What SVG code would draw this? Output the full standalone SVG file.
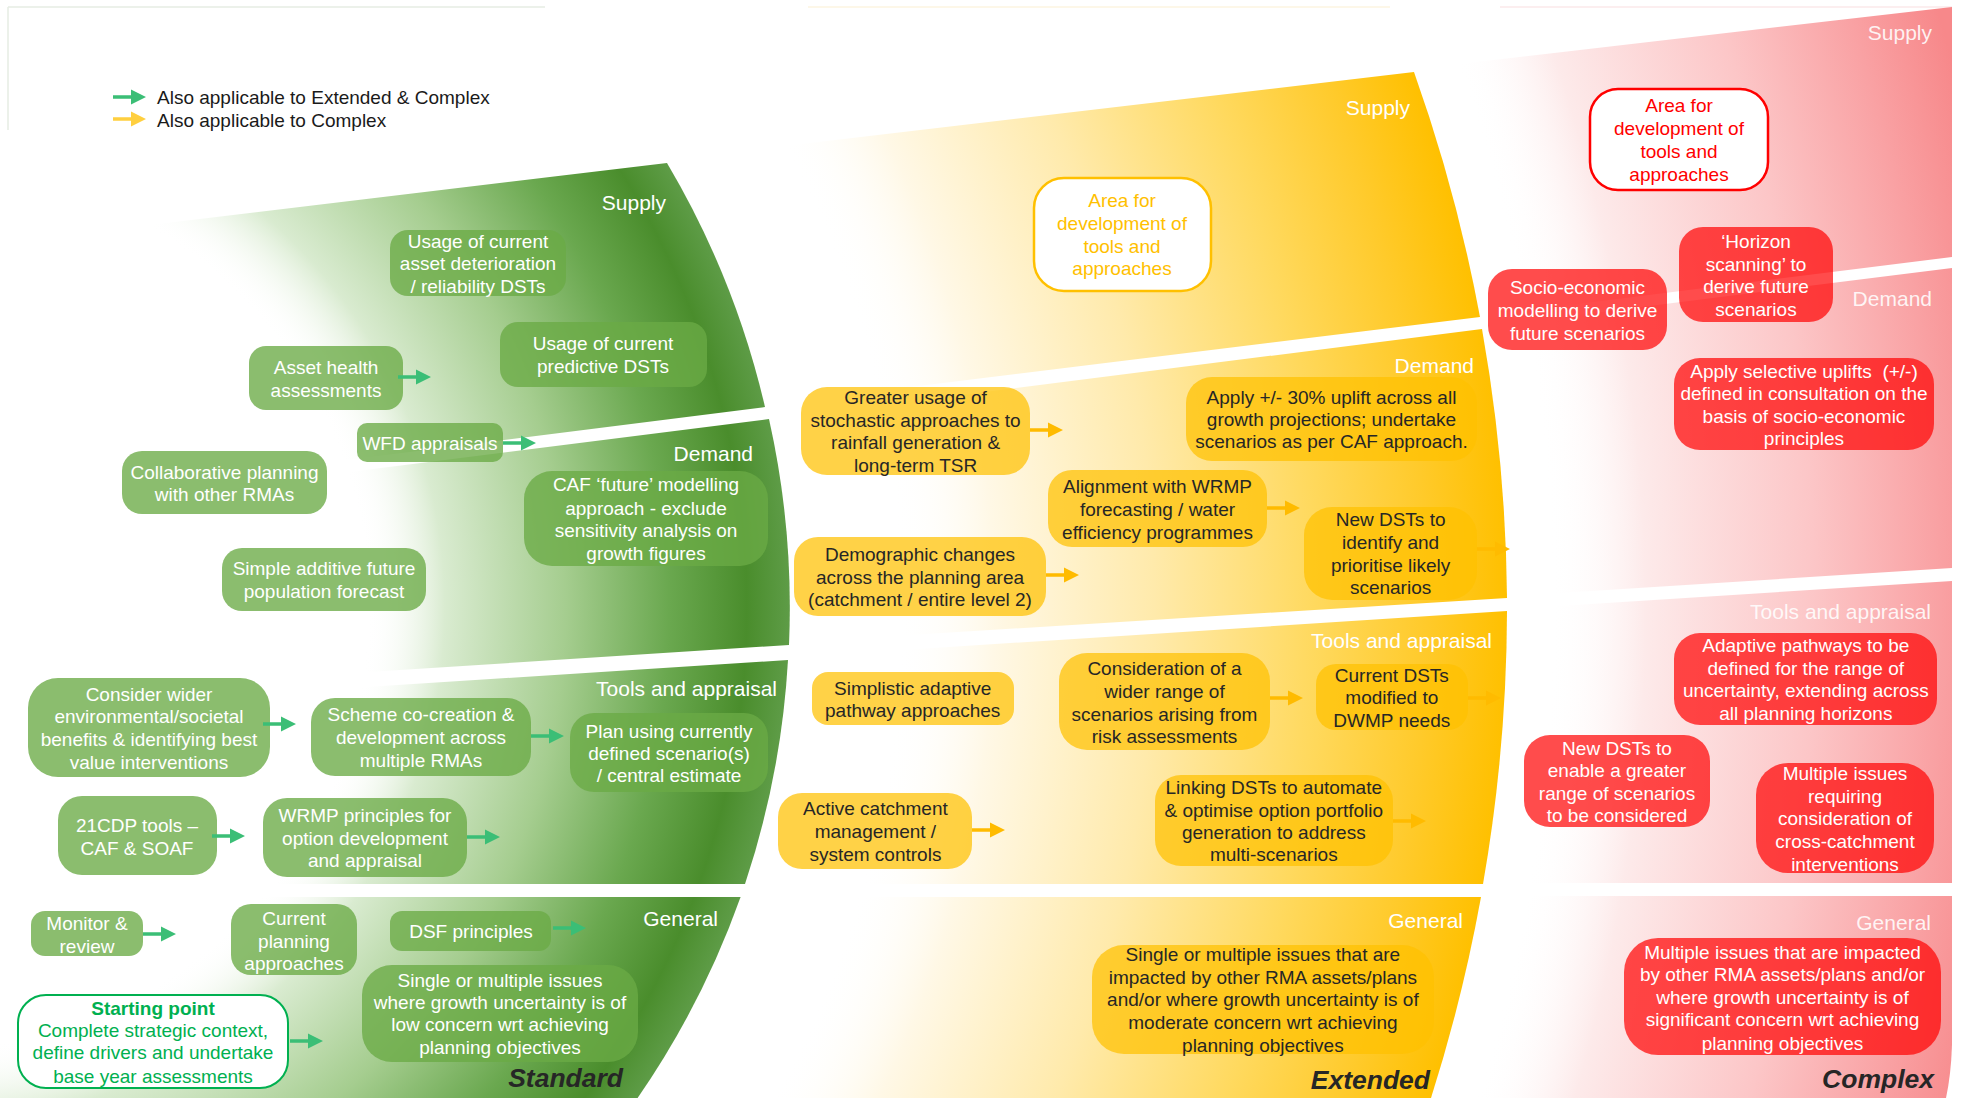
<svg xmlns="http://www.w3.org/2000/svg" xmlns:xlink="http://www.w3.org/1999/xlink" width="1961" height="1098" viewBox="0 0 1961 1098">
<defs>
<radialGradient id="gradG" gradientUnits="userSpaceOnUse" cx="-73" cy="608" r="863">
<stop offset="0" stop-color="#ffffff" stop-opacity="0"/>
<stop offset="0.51" stop-color="#ffffff" stop-opacity="0"/>
<stop offset="0.6" stop-color="#d9ebd0"/>
<stop offset="0.74" stop-color="#a5cd8f"/>
<stop offset="0.86" stop-color="#6aa84f"/>
<stop offset="0.95" stop-color="#4a8d2c"/>
<stop offset="1" stop-color="#5e9c47"/>
</radialGradient>
<radialGradient id="gradY" gradientUnits="userSpaceOnUse" cx="-96" cy="610" r="1603">
<stop offset="0" stop-color="#ffffff" stop-opacity="0"/>
<stop offset="0.62" stop-color="#ffffff" stop-opacity="0"/>
<stop offset="0.68" stop-color="#fff8e6"/>
<stop offset="0.78" stop-color="#ffeaab"/>
<stop offset="0.88" stop-color="#ffd95e"/>
<stop offset="0.95" stop-color="#ffca2a"/>
<stop offset="1" stop-color="#ffc000"/>
</radialGradient>
<radialGradient id="gradR" gradientUnits="userSpaceOnUse" cx="-85" cy="610" r="2110">
<stop offset="0" stop-color="#ffffff" stop-opacity="0"/>
<stop offset="0.775" stop-color="#ffffff" stop-opacity="0"/>
<stop offset="0.82" stop-color="#fdeaea"/>
<stop offset="0.9" stop-color="#fcc6c7"/>
<stop offset="0.96" stop-color="#f9a1a3"/>
<stop offset="1" stop-color="#f7888a"/>
</radialGradient>
<path id="arr" d="M0,-1.8 H18 V-7.5 L33,0 L18,7.5 V1.8 H0 Z"/>
<style>
text{font-family:"Liberation Sans",Arial,sans-serif;font-size:19px;text-anchor:middle}
.gn rect{fill:#6aaa45;fill-opacity:.78}
.gn text{fill:#ffffff}
.yn rect{fill:#ffc000;fill-opacity:.72}
.yn text{fill:#262626}
.rn rect{fill:#ff0000;fill-opacity:.7}
.rn text{fill:#ffffff}
.lbl{font-size:21px;fill:#ffffff;text-anchor:end}
.rl{fill-opacity:.88}
.ttl{font-size:26.5px;font-weight:bold;font-style:italic;fill:#262626;text-anchor:end}
.leg{text-anchor:start;fill:#1a1a1a}
.ga{fill:#3bbe76}
.ya{fill:#ffbb00}
.yl{fill:#ffcf3f}
.faint{stroke-width:1.5;fill:none}
</style>
</defs>
<rect x="0" y="0" width="1961" height="1098" fill="#ffffff"/>
<g id="faint-lines">
<path class="faint" d="M8,7 H545 M8,7 V130" stroke="#e6ede4"/>
<path class="faint" d="M808,7 H1390" stroke="#fdf4e0"/>
<path class="faint" d="M1500,7 H1952" stroke="#fbe9ea"/>
</g>
<g id="complex-bands">
<path d="M1450,65 L1952,7 L1952,257 L1450,320 Z" fill="url(#gradR)"/>
<path d="M1450,331 L1952,268 L1952,568 L1450,600 Z" fill="url(#gradR)"/>
<path d="M1450,613 L1952,581 L1952,883 L1450,883 Z" fill="url(#gradR)"/>
<path d="M1450,896 L1952,896 L1952,1045 Q1951,1075 1946,1098 L1450,1098 Z" fill="url(#gradR)"/>
</g>
<g id="extended-bands">
<path d="M780,146.5 L1414,72 A1603,1603 0 0,1 1480,317 L780,403 Z" fill="url(#gradY)"/>
<path d="M780,418 L1482,329 A1603,1603 0 0,1 1507,598 L780,643 Z" fill="url(#gradY)"/>
<path d="M780,658 L1507,611 A1603,1603 0 0,1 1483,884 L780,884 Z" fill="url(#gradY)"/>
<path d="M700,897 L1481,897 A1603,1603 0 0,1 1431,1098 L700,1098 Z" fill="url(#gradY)"/>
</g>
<g id="standard-bands">
<path d="M150,225 L667,163 A863,863 0 0,1 765,407 L150,485 Z" fill="url(#gradG)"/>
<path d="M150,497 L769,419 A863,863 0 0,1 789,645 L150,686 Z" fill="url(#gradG)"/>
<path d="M150,701 L788,660 A863,863 0 0,1 745,884 L150,884 Z" fill="url(#gradG)"/>
<path d="M0,897 L740.6,897 A863,863 0 0,1 637.6,1098 L0,1098 Z" fill="url(#gradG)"/>
</g>
<g id="band-labels">
<text class="lbl" x="666" y="210">Supply</text>
<text class="lbl" x="753" y="461">Demand</text>
<text class="lbl" x="777" y="696">Tools and appraisal</text>
<text class="lbl" x="718" y="926">General</text>
<text class="ttl" x="623" y="1087">Standard</text>
<text class="lbl" x="1410" y="115">Supply</text>
<text class="lbl" x="1474" y="373">Demand</text>
<text class="lbl" x="1492" y="648">Tools and appraisal</text>
<text class="lbl" x="1463" y="928">General</text>
<text class="ttl" x="1430" y="1089">Extended</text>
<text class="lbl rl" x="1932" y="40">Supply</text>
<text class="lbl rl" x="1932" y="306">Demand</text>
<text class="lbl rl" x="1931" y="619">Tools and appraisal</text>
<text class="lbl rl" x="1931" y="930">General</text>
<text class="ttl" x="1934" y="1088">Complex</text>
</g>
<g id="legend">
<use xlink:href="#arr" x="113" y="97" class="ga"/>
<use xlink:href="#arr" x="113" y="119" class="yl"/>
<text class="leg" x="157" y="104">Also applicable to Extended &amp; Complex</text>
<text class="leg" x="157" y="127">Also applicable to Complex</text>
</g>
<g id="standard-nodes" class="gn">
<g id="g-usage-asset"><rect x="390" y="230" width="176" height="66" rx="18"/><text><tspan x="478" y="248">Usage of current</tspan><tspan x="478" y="270">asset deterioration</tspan><tspan x="478" y="293">/ reliability DSTs</tspan></text></g>
<g id="g-usage-pred"><rect x="500" y="322" width="207" height="65" rx="18"/><text><tspan x="603" y="350">Usage of current</tspan><tspan x="603" y="373">predictive DSTs</tspan></text></g>
<g id="g-asset-health"><rect x="249" y="346" width="154" height="64" rx="17"/><text><tspan x="326" y="374">Asset health</tspan><tspan x="326" y="397">assessments</tspan></text></g>
<g id="g-wfd"><rect x="357" y="423" width="146" height="39" rx="10"/><text x="430" y="450">WFD appraisals</text></g>
<g id="g-collab"><rect x="122" y="451" width="205" height="63" rx="20"/><text><tspan x="224.5" y="479">Collaborative planning</tspan><tspan x="224.5" y="501">with other RMAs</tspan></text></g>
<g id="g-caf"><rect x="524" y="471" width="244" height="95" rx="28"/><text><tspan x="646" y="491">CAF ‘future’ modelling</tspan><tspan x="646" y="515">approach - exclude</tspan><tspan x="646" y="537">sensitivity analysis on</tspan><tspan x="646" y="560">growth figures</tspan></text></g>
<g id="g-simple"><rect x="222" y="548" width="204" height="63" rx="20"/><text><tspan x="324" y="575">Simple additive future</tspan><tspan x="324" y="598">population forecast</tspan></text></g>
<g id="g-consider"><rect x="28" y="678" width="242" height="99" rx="30"/><text><tspan x="149" y="701">Consider wider</tspan><tspan x="149" y="723">environmental/societal</tspan><tspan x="149" y="746">benefits &amp; identifying best</tspan><tspan x="149" y="769">value interventions</tspan></text></g>
<g id="g-scheme"><rect x="311" y="698" width="220" height="78" rx="24"/><text><tspan x="421" y="721">Scheme co-creation &amp;</tspan><tspan x="421" y="744">development across</tspan><tspan x="421" y="767">multiple RMAs</tspan></text></g>
<g id="g-plan"><rect x="570" y="713" width="198" height="79" rx="24"/><text><tspan x="669" y="738">Plan using currently</tspan><tspan x="669" y="760">defined scenario(s)</tspan><tspan x="669" y="782">/ central estimate</tspan></text></g>
<g id="g-21cdp"><rect x="58" y="796" width="159" height="79" rx="24"/><text><tspan x="137" y="832">21CDP tools –</tspan><tspan x="137" y="855">CAF &amp; SOAF</tspan></text></g>
<g id="g-wrmp"><rect x="263" y="798" width="204" height="79" rx="24"/><text><tspan x="365" y="822">WRMP principles for</tspan><tspan x="365" y="845">option development</tspan><tspan x="365" y="867">and appraisal</tspan></text></g>
<g id="g-monitor"><rect x="31" y="911" width="112" height="45" rx="14"/><text><tspan x="87" y="930">Monitor &amp;</tspan><tspan x="87" y="953">review</tspan></text></g>
<g id="g-current"><rect x="231" y="904" width="126" height="71" rx="20"/><text><tspan x="294" y="925">Current</tspan><tspan x="294" y="948">planning</tspan><tspan x="294" y="970">approaches</tspan></text></g>
<g id="g-dsf"><rect x="390" y="911" width="161" height="40" rx="12"/><text x="471" y="938">DSF principles</text></g>
<g id="g-single"><rect x="362" y="965" width="276" height="97" rx="30"/><text><tspan x="500" y="987">Single or multiple issues</tspan><tspan x="500" y="1009">where growth uncertainty is of</tspan><tspan x="500" y="1031">low concern wrt achieving</tspan><tspan x="500" y="1054">planning objectives</tspan></text></g>
<g id="g-start"><rect x="18" y="995" width="270" height="93" rx="28" style="fill:#ffffff;fill-opacity:1;stroke:#00b050;stroke-width:2"/><text style="fill:#00b050"><tspan x="153" y="1015" font-weight="bold">Starting point</tspan><tspan x="153" y="1037">Complete strategic context,</tspan><tspan x="153" y="1059">define drivers and undertake</tspan><tspan x="153" y="1083">base year assessments</tspan></text></g>
</g>
<g id="extended-nodes" class="yn">
<g id="y-area"><rect x="1034" y="178" width="177" height="113" rx="30" style="fill:#ffffff;fill-opacity:1;stroke:#ffc000;stroke-width:2.5"/><text style="fill:#ffc000"><tspan x="1122" y="207">Area for</tspan><tspan x="1122" y="230">development of</tspan><tspan x="1122" y="253">tools and</tspan><tspan x="1122" y="275">approaches</tspan></text></g>
<g id="y-greater"><rect x="801" y="387" width="229" height="88" rx="26"/><text><tspan x="915.6" y="404">Greater usage of</tspan><tspan x="915.6" y="427">stochastic approaches to</tspan><tspan x="915.6" y="449">rainfall generation &amp;</tspan><tspan x="915.6" y="472">long-term TSR</tspan></text></g>
<g id="y-apply"><rect x="1186" y="377" width="291" height="84" rx="26"/><text><tspan x="1331.5" y="404">Apply +/- 30% uplift across all</tspan><tspan x="1331.5" y="426">growth projections; undertake</tspan><tspan x="1331.5" y="448">scenarios as per CAF approach.</tspan></text></g>
<g id="y-align"><rect x="1048" y="470" width="219" height="77" rx="24"/><text><tspan x="1157.5" y="493">Alignment with WRMP</tspan><tspan x="1157.5" y="516">forecasting / water</tspan><tspan x="1157.5" y="539">efficiency programmes</tspan></text></g>
<g id="y-newdst"><rect x="1304" y="507" width="173" height="93" rx="28"/><text><tspan x="1390.6" y="526">New DSTs to</tspan><tspan x="1390.6" y="549">identify and</tspan><tspan x="1390.6" y="572">prioritise likely</tspan><tspan x="1390.6" y="594">scenarios</tspan></text></g>
<g id="y-demog"><rect x="794" y="537" width="252" height="79" rx="24"/><text><tspan x="920" y="561">Demographic changes</tspan><tspan x="920" y="584">across the planning area</tspan><tspan x="920" y="606">(catchment / entire level 2)</tspan></text></g>
<g id="y-simplistic"><rect x="812" y="672" width="202" height="53" rx="16"/><text><tspan x="912.7" y="695">Simplistic adaptive</tspan><tspan x="912.7" y="717">pathway approaches</tspan></text></g>
<g id="y-consid"><rect x="1059" y="653" width="211" height="97" rx="28"/><text><tspan x="1164.5" y="675">Consideration of a</tspan><tspan x="1164.5" y="698">wider range of</tspan><tspan x="1164.5" y="721">scenarios arising from</tspan><tspan x="1164.5" y="743">risk assessments</tspan></text></g>
<g id="y-curdst"><rect x="1316" y="664" width="152" height="66" rx="20"/><text><tspan x="1391.8" y="682">Current DSTs</tspan><tspan x="1391.8" y="704">modified to</tspan><tspan x="1391.8" y="727">DWMP needs</tspan></text></g>
<g id="y-active"><rect x="778" y="793" width="194" height="76" rx="24"/><text><tspan x="875.4" y="815">Active catchment</tspan><tspan x="875.4" y="838">management /</tspan><tspan x="875.4" y="861">system controls</tspan></text></g>
<g id="y-linking"><rect x="1155" y="775" width="238" height="91" rx="26"/><text><tspan x="1273.8" y="794">Linking DSTs to automate</tspan><tspan x="1273.8" y="817">&amp; optimise option portfolio</tspan><tspan x="1273.8" y="839">generation to address</tspan><tspan x="1273.8" y="861">multi-scenarios</tspan></text></g>
<g id="y-single"><rect x="1092" y="945" width="342" height="109" rx="32"/><text><tspan x="1262.9" y="961">Single or multiple issues that are</tspan><tspan x="1262.9" y="984">impacted by other RMA assets/plans</tspan><tspan x="1262.9" y="1006">and/or where growth uncertainty is of</tspan><tspan x="1262.9" y="1029">moderate concern wrt achieving</tspan><tspan x="1262.9" y="1052">planning objectives</tspan></text></g>
</g>
<g id="complex-nodes" class="rn">
<g id="r-area"><rect x="1590" y="89" width="178" height="101" rx="28" style="fill:#ffffff;fill-opacity:1;stroke:#ff0000;stroke-width:2.5"/><text style="fill:#ff0000"><tspan x="1679" y="112">Area for</tspan><tspan x="1679" y="135">development of</tspan><tspan x="1679" y="158">tools and</tspan><tspan x="1679" y="181">approaches</tspan></text></g>
<g id="r-horizon"><rect x="1679" y="227" width="154" height="95" rx="24"/><text><tspan x="1756" y="248">‘Horizon</tspan><tspan x="1756" y="271">scanning’ to</tspan><tspan x="1756" y="293">derive future</tspan><tspan x="1756" y="316">scenarios</tspan></text></g>
<g id="r-socio"><rect x="1488" y="269" width="179" height="81" rx="24"/><text><tspan x="1577.5" y="294">Socio-economic</tspan><tspan x="1577.5" y="317">modelling to derive</tspan><tspan x="1577.5" y="340">future scenarios</tspan></text></g>
<g id="r-apply"><rect x="1674" y="358" width="260" height="92" rx="26"/><text><tspan x="1804" y="378">Apply selective uplifts&#160; (+/-)</tspan><tspan x="1804" y="400">defined in consultation on the</tspan><tspan x="1804" y="423">basis of socio-economic</tspan><tspan x="1804" y="445">principles</tspan></text></g>
<g id="r-adaptive"><rect x="1674" y="633" width="263" height="92" rx="26"/><text><tspan x="1805.8" y="652">Adaptive pathways to be</tspan><tspan x="1805.8" y="675">defined for the range of</tspan><tspan x="1805.8" y="697">uncertainty, extending across</tspan><tspan x="1805.8" y="720">all planning horizons</tspan></text></g>
<g id="r-newdst"><rect x="1524" y="735" width="186" height="92" rx="26"/><text><tspan x="1617" y="755">New DSTs to</tspan><tspan x="1617" y="777">enable a greater</tspan><tspan x="1617" y="800">range of scenarios</tspan><tspan x="1617" y="822">to be considered</tspan></text></g>
<g id="r-multiple"><rect x="1756" y="763" width="178" height="110" rx="32"/><text><tspan x="1845" y="780">Multiple issues</tspan><tspan x="1845" y="803">requiring</tspan><tspan x="1845" y="825">consideration of</tspan><tspan x="1845" y="848">cross-catchment</tspan><tspan x="1845" y="871">interventions</tspan></text></g>
<g id="r-general"><rect x="1624" y="938" width="317" height="117" rx="34"/><text><tspan x="1782.5" y="959">Multiple issues that are impacted</tspan><tspan x="1782.5" y="981">by other RMA assets/plans and/or</tspan><tspan x="1782.5" y="1004">where growth uncertainty is of</tspan><tspan x="1782.5" y="1026">significant concern wrt achieving</tspan><tspan x="1782.5" y="1050">planning objectives</tspan></text></g>
</g>
<g id="connectors">
<use xlink:href="#arr" x="398" y="377" class="ga"/>
<use xlink:href="#arr" x="503" y="443" class="ga"/>
<use xlink:href="#arr" x="263" y="724" class="ga"/>
<use xlink:href="#arr" x="531" y="736" class="ga"/>
<use xlink:href="#arr" x="212" y="836" class="ga"/>
<use xlink:href="#arr" x="467" y="837" class="ga"/>
<use xlink:href="#arr" x="143" y="934" class="ga"/>
<use xlink:href="#arr" x="553" y="928" class="ga"/>
<use xlink:href="#arr" x="290" y="1041" class="ga"/>
<use xlink:href="#arr" x="1030" y="430" class="ya"/>
<use xlink:href="#arr" x="1267" y="508" class="ya"/>
<use xlink:href="#arr" x="1477" y="549" class="ya"/>
<use xlink:href="#arr" x="1046" y="575" class="ya"/>
<use xlink:href="#arr" x="1270" y="698" class="ya"/>
<use xlink:href="#arr" x="1468" y="698" class="ya"/>
<use xlink:href="#arr" x="972" y="830" class="ya"/>
<use xlink:href="#arr" x="1393" y="821" class="ya"/>
</g>
</svg>
